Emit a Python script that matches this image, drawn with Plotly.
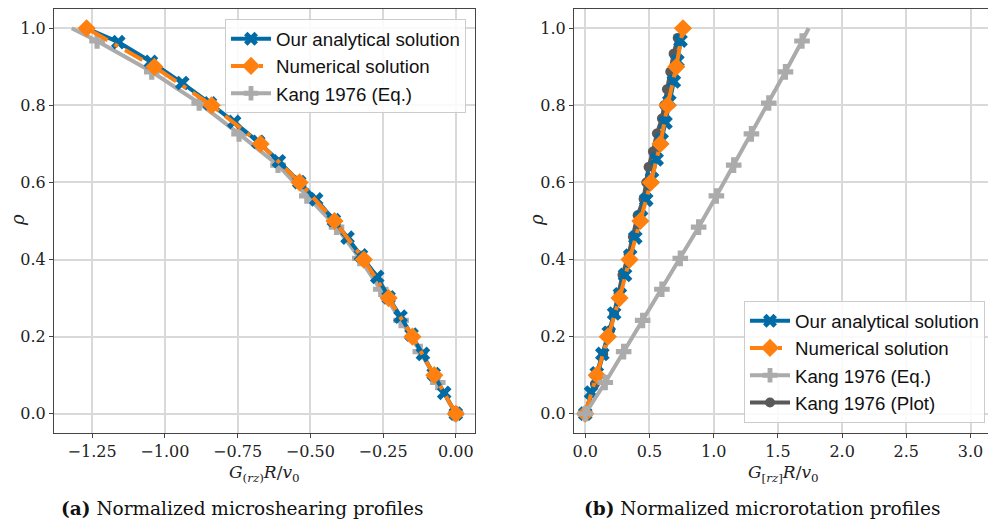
import plotly.graph_objects as go

# ---------------- (a) microshearing G_(rz) R / v0 ----------------
rho_num = [0.0, 0.1, 0.2, 0.3, 0.4, 0.5, 0.6, 0.7, 0.8, 0.9, 1.0]
shear_num = [0.0, -0.074, -0.149, -0.231, -0.316, -0.417, -0.537, -0.671, -0.839, -1.036, -1.269]

rho_ana_a = [0.0, 0.054, 0.103, 0.155, 0.205, 0.252, 0.302, 0.355, 0.411, 0.457, 0.502,
             0.556, 0.601, 0.655, 0.705, 0.757, 0.805, 0.858, 0.913, 0.964, 1.0]
shear_ana = [0.0, -0.040, -0.076, -0.113, -0.152, -0.190, -0.231, -0.270, -0.326, -0.372, -0.419,
             -0.480, -0.538, -0.608, -0.679, -0.762, -0.845, -0.940, -1.048, -1.160, -1.269]

rho_kang = [0.0, 0.081, 0.161, 0.242, 0.323, 0.403, 0.484, 0.565, 0.645, 0.726, 0.806, 0.887, 0.967, 1.0]
shear_kang = [0.0, -0.062, -0.122, -0.188, -0.258, -0.330, -0.410, -0.512, -0.611, -0.745, -0.882,
              -1.045, -1.233, -1.320]

# ---------------- (b) microrotation G_[rz] R / v0 ----------------
rot_num = [0.0, 0.090, 0.176, 0.267, 0.345, 0.429, 0.511, 0.585, 0.641, 0.709, 0.761]

rho_ana_b = [0.0, 0.055, 0.105, 0.155, 0.21, 0.26, 0.31, 0.36, 0.41, 0.457, 0.51,
             0.555, 0.61, 0.66, 0.71, 0.755, 0.81, 0.862, 0.915, 0.968, 1.0]
rot_ana = [0.0, 0.045, 0.090, 0.133, 0.183, 0.225, 0.270, 0.310, 0.350, 0.390, 0.435,
           0.475, 0.520, 0.556, 0.595, 0.625, 0.655, 0.690, 0.718, 0.742, 0.757]

rot_kang_eq = [0.0, 0.156, 0.299, 0.447, 0.597, 0.740, 0.883, 1.021, 1.156, 1.294, 1.429,
               1.559, 1.688, 1.740]

rho_kang_plot = [0.0, 0.077, 0.155, 0.217, 0.26, 0.312, 0.36, 0.414, 0.459, 0.515, 0.557,
                 0.60, 0.64, 0.68, 0.727, 0.766, 0.80, 0.842, 0.887, 0.934, 0.975]
rot_kang_plot = [0.0, 0.075, 0.140, 0.195, 0.225, 0.260, 0.290, 0.338, 0.371, 0.408, 0.454,
                 0.475, 0.493, 0.527, 0.558, 0.597, 0.615, 0.636, 0.662, 0.688, 0.720]

labels = ["Our analytical solution", "Numerical solution", "Kang 1976 (Eq.)", "Kang 1976 (Plot)"]

BLUE, ORANGE, GREY, DGREY = "#006BA4", "#FF800E", "#ABABAB", "#595959"
LW = 4
DASHDOT = "20px,8px,4px,8px"


def sizes(n, s, last_hidden=True):
    out = [s] * n
    if last_hidden:
        out[-1] = 0
    return out


def mk(symbol, size, color):
    return dict(symbol=symbol, size=size, color=color, opacity=1, line=dict(width=0))


fig = go.Figure()

# panel (a): Kang underneath, then analytical, numerical on top
fig.add_trace(go.Scatter(x=shear_kang, y=rho_kang, mode="lines+markers", name=labels[2],
                         line=dict(color=GREY, width=LW),
                         marker=mk("cross", sizes(len(rho_kang), 13), GREY),
                         xaxis="x", yaxis="y", legend="legend", legendrank=3))
fig.add_trace(go.Scatter(x=shear_ana, y=rho_ana_a, mode="lines+markers", name=labels[0],
                         line=dict(color=BLUE, width=LW),
                         marker=mk("x", sizes(len(rho_ana_a), 13), BLUE),
                         xaxis="x", yaxis="y", legend="legend", legendrank=1))
fig.add_trace(go.Scatter(x=shear_num, y=rho_num, mode="lines+markers", name=labels[1],
                         line=dict(color=ORANGE, width=LW, dash=DASHDOT),
                         marker=mk("diamond", 14, ORANGE),
                         xaxis="x", yaxis="y", legend="legend", legendrank=2))

# panel (b)
fig.add_trace(go.Scatter(x=rot_kang_plot, y=rho_kang_plot, mode="lines+markers", name=labels[3],
                         line=dict(color=DGREY, width=LW),
                         marker=mk("circle", 10, DGREY),
                         xaxis="x2", yaxis="y2", legend="legend2", legendrank=4))
fig.add_trace(go.Scatter(x=rot_ana, y=rho_ana_b, mode="lines+markers", name=labels[0],
                         line=dict(color=BLUE, width=LW),
                         marker=mk("x", sizes(len(rho_ana_b), 13), BLUE),
                         xaxis="x2", yaxis="y2", legend="legend2", legendrank=1))
fig.add_trace(go.Scatter(x=rot_num, y=rho_num, mode="lines+markers", name=labels[1],
                         line=dict(color=ORANGE, width=LW, dash=DASHDOT),
                         marker=mk("diamond", 14, ORANGE),
                         xaxis="x2", yaxis="y2", legend="legend2", legendrank=2))
fig.add_trace(go.Scatter(x=rot_kang_eq, y=rho_kang, mode="lines+markers", name=labels[2],
                         line=dict(color=GREY, width=LW),
                         marker=mk("cross", sizes(len(rho_kang), 13), GREY),
                         xaxis="x2", yaxis="y2", legend="legend2", legendrank=3))

W, H = 988, 521
TICKFONT = dict(family="DejaVu Serif", size=16, color="#222")
axis_common = dict(showgrid=True, gridcolor="#d9d9d9", gridwidth=1.5, zeroline=False,
                   showline=True, linecolor="#444", linewidth=1, ticks="outside",
                   ticklen=4, tickcolor="#444", tickfont=TICKFONT)
LEGFONT = dict(family="Liberation Sans", size=18.7, color="#111")

fig.update_layout(
    width=W, height=H, margin=dict(l=0, r=0, t=0, b=0),
    paper_bgcolor="white", plot_bgcolor="white",
    xaxis=dict(domain=[54 / W, 475 / W], range=[-1.381, 0.066], tickvals=[-1.25, -1.0, -0.75, -0.5, -0.25, 0.0],
               tickformat=".2f", mirror=True, anchor="y", **axis_common),
    yaxis=dict(domain=[1 - 433 / H, 1 - 9 / H], range=[-0.05, 1.05], dtick=0.2, tickformat=".1f",
               mirror=True, anchor="x", **axis_common),
    xaxis2=dict(domain=[574 / W, 1.0], range=[-0.0875, 3.136], dtick=0.5, tickformat=".1f",
                mirror=True, anchor="y2", **axis_common),
    yaxis2=dict(domain=[1 - 433 / H, 1 - 9 / H], range=[-0.05, 1.05], dtick=0.2, tickformat=".1f",
                mirror=False, anchor="x2", **axis_common),
    legend=dict(x=466 / W, y=1 - 19 / H, xanchor="right", yanchor="top",
                bgcolor="rgba(255,255,255,0.85)", bordercolor="#cccccc", borderwidth=1,
                font=LEGFONT, itemwidth=40),
    legend2=dict(x=985 / W, y=1 - 423 / H, xanchor="right", yanchor="bottom",
                 bgcolor="rgba(255,255,255,0.85)", bordercolor="#cccccc", borderwidth=1,
                 font=LEGFONT, itemwidth=40),
    showlegend=True,
)

SERIF = "DejaVu Serif"
ann = [
    dict(x=264 / W, y=1 - 473 / H, text="<i>G</i><sub>(<i>rz</i>)</sub><i>R</i>/<i>v</i><sub>0</sub>",
         font=dict(family=SERIF, size=17, color="#222")),
    dict(x=783 / W, y=1 - 473 / H, text="<i>G</i><sub>[<i>rz</i>]</sub><i>R</i>/<i>v</i><sub>0</sub>",
         font=dict(family=SERIF, size=17, color="#222")),
    dict(x=18 / W, y=1 - 220 / H, text="<i>ρ</i>", textangle=-90,
         font=dict(family=SERIF, size=18, color="#222")),
    dict(x=537 / W, y=1 - 220 / H, text="<i>ρ</i>", textangle=-90,
         font=dict(family=SERIF, size=18, color="#222")),
    dict(x=242 / W, y=1 - 508 / H, text="<b>(a)</b> Normalized microshearing profiles",
         font=dict(family=SERIF, size=18.5, color="#111")),
    dict(x=762 / W, y=1 - 508 / H, text="<b>(b)</b> Normalized microrotation profiles",
         font=dict(family=SERIF, size=18.5, color="#111")),
]
for a in ann:
    fig.add_annotation(xref="paper", yref="paper", showarrow=False, xanchor="center", yanchor="middle", **a)

fig.write_html("out.html")
